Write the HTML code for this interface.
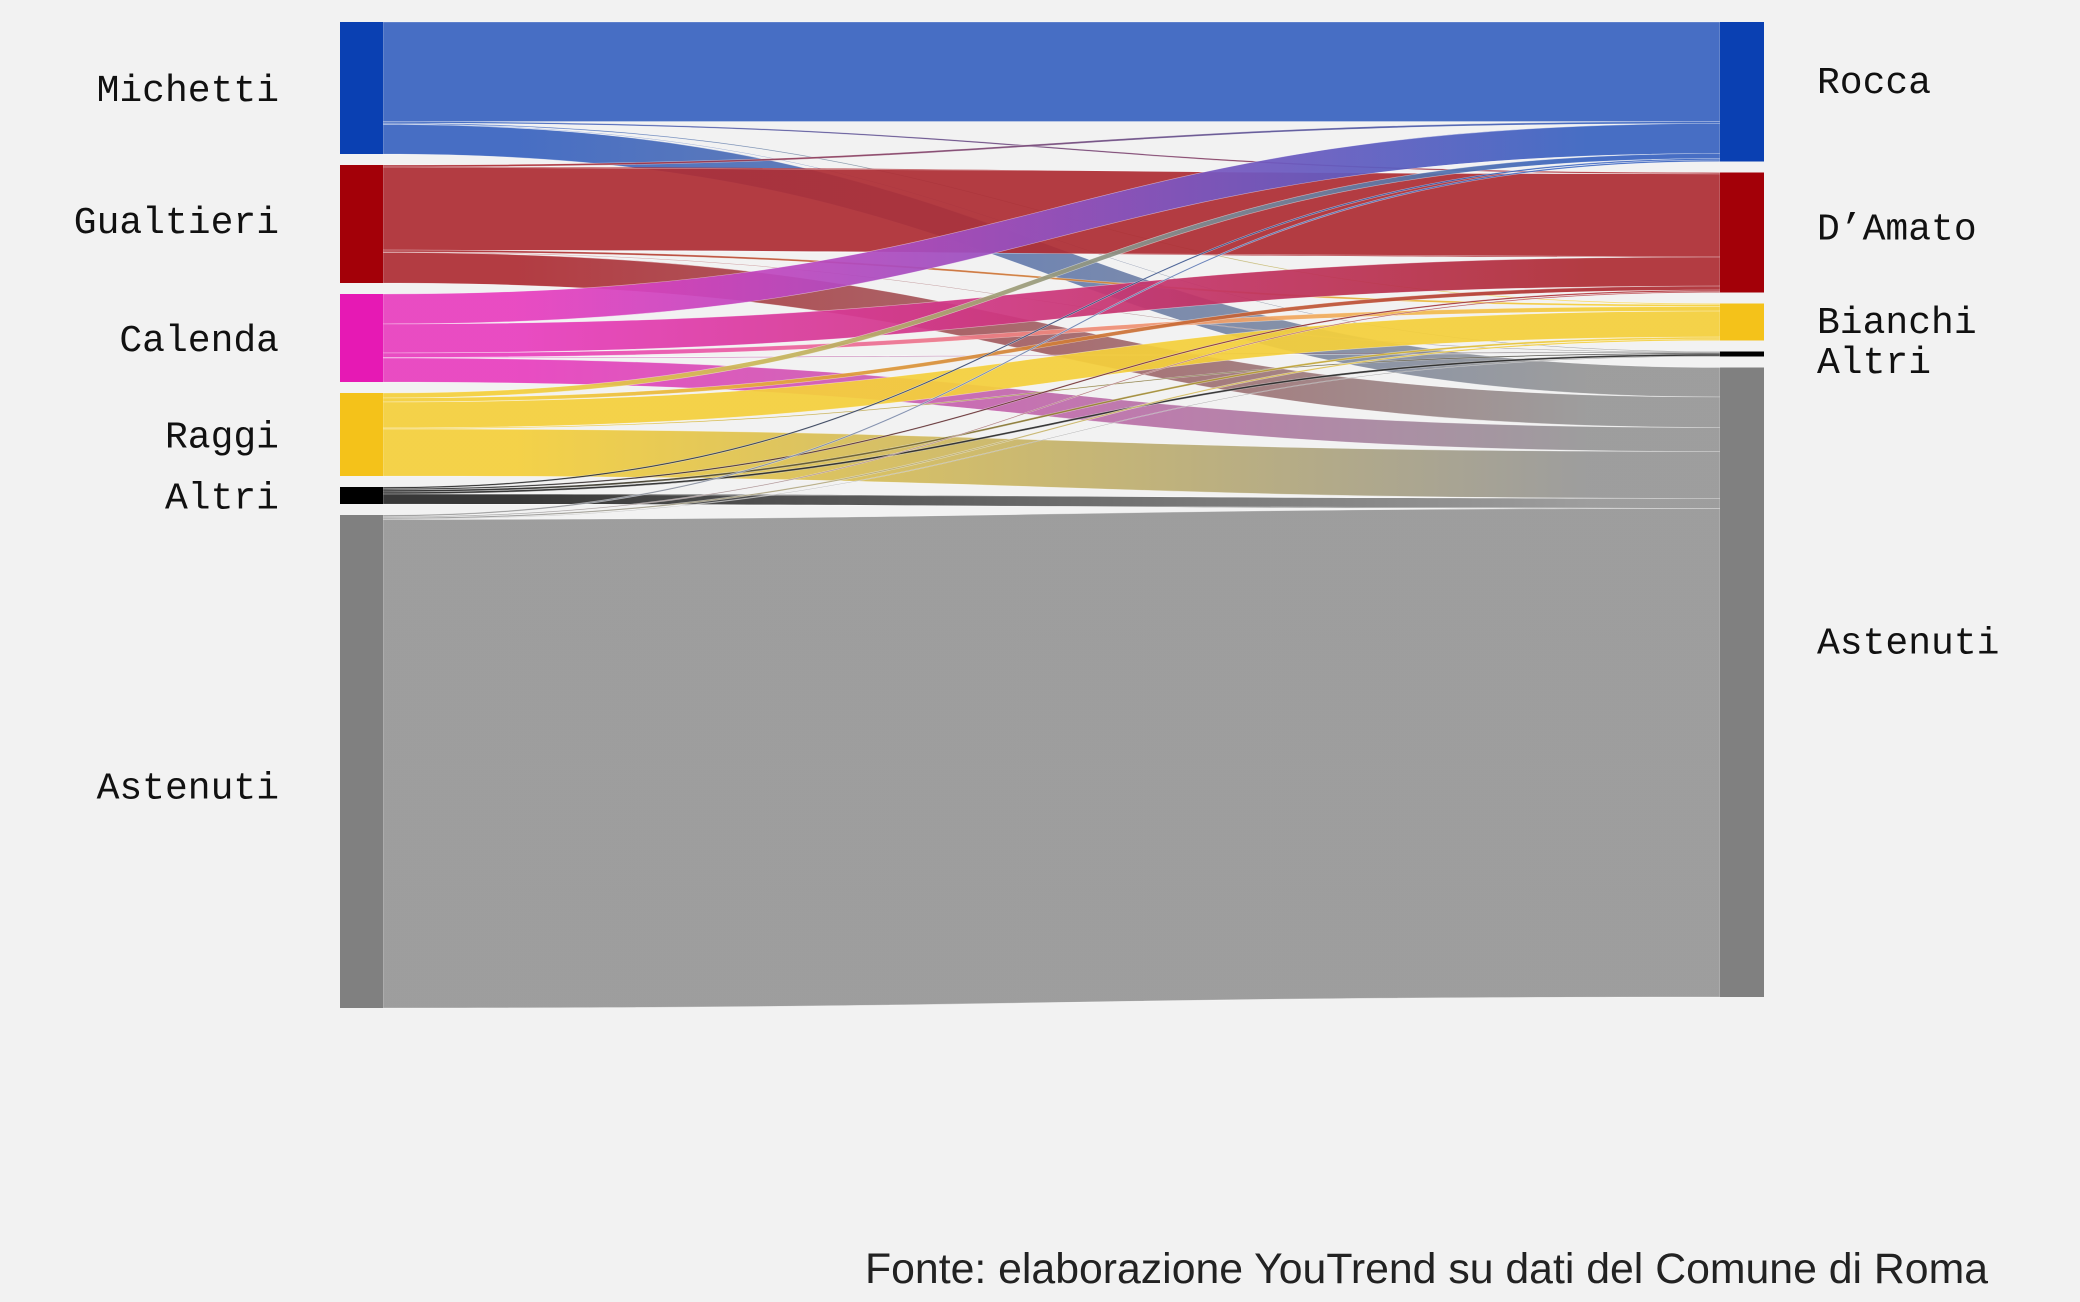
<!DOCTYPE html>
<html><head><meta charset="utf-8"><style>
html,body{margin:0;padding:0;background:#f2f2f2;}
svg{display:block;}
.lbl{font-family:"Liberation Mono","DejaVu Sans Mono",monospace;font-size:38px;fill:#111;}
</style></head><body>
<svg id="chart" width="2080" height="1302" viewBox="0 0 2080 1302" xmlns="http://www.w3.org/2000/svg">
<rect x="0" y="0" width="2080" height="1302" fill="#f2f2f2"/>
<defs id="defs"></defs>
<g id="links"></g>
<g id="nodes"></g>
<text x="865" y="1283" textLength="1123" lengthAdjust="spacingAndGlyphs" font-family="Liberation Sans Narrow, Liberation Sans, Arial, sans-serif" font-size="43" fill="#222">Fonte: elaborazione YouTrend su dati del Comune di Roma</text>
</svg>
<script>
const sources = ["Michetti","Gualtieri","Calenda","Raggi","Altri","Astenuti"];
const targets = ["Rocca","D\u2019Amato","Bianchi","Altri","Astenuti"];
const fromMichetti = [99.5, 1.5, 1, 0.5, 29.5];
const fromGualtieri = [2, 83, 2, 0.5, 30.5];
const fromCalenda = [30, 29, 4.5, 0.5, 24];
const fromRaggi = [5, 4, 26, 1, 47];
const fromAltri = [1.5, 1.5, 2, 2, 10];
const fromAstenuti = [1.5, 1, 1.5, 0.5, 488.5];
const flows = [fromMichetti, fromGualtieri, fromCalenda, fromRaggi, fromAltri, fromAstenuti];

const srcNodeCol = ["#0a40b2","#a30008","#e619b4","#f4c21a","#000000","#808080"];
const srcLinkCol = ["#3a64c0","#ae2e35","#e83fbf","#f4cf3c","#2a2a2a","#979797"];
const tgtNodeCol = ["#0a40b2","#a30008","#f4c21a","#000000","#808080"];
const tgtLinkCol = ["#3a64c0","#ae2e35","#f4cf3c","#2a2a2a","#979797"];

const NS="http://www.w3.org/2000/svg";
const L={x0:340,x1:383,top:22,pad:11}, R={x0:1720,x1:1764,top:22,pad:11};
const k=1.0;
const srcTot=sources.map((s,i)=>flows[i].reduce((a,b)=>a+b,0));
const tgtTot=targets.map((t,j)=>flows.reduce((a,r)=>a+r[j],0));
function stack(tots,cfg){let y=cfg.top;return tots.map(v=>{const o={y0:y,y1:y+v*k};y+=v*k+cfg.pad;return o;});}
const sPos=stack(srcTot,L), tPos=stack(tgtTot,R);
const defs=document.getElementById('defs'), gl=document.getElementById('links'), gn=document.getElementById('nodes');
const sOff=sPos.map(p=>p.y0), tOff=tPos.map(p=>p.y0);
const paths=[];
flows.forEach((row,i)=>row.forEach((v,j)=>{
  const h=v*k, sy=sOff[i]; sOff[i]+=h;
  paths.push({i,j,h,sy,ty:0});
}));
targets.forEach((t,j)=>{paths.filter(p=>p.j===j).sort((a,b)=>a.i-b.i).forEach(p=>{p.ty=tOff[j];tOff[j]+=p.h;});});
paths.forEach((p,n)=>{
  const g=document.createElementNS(NS,'linearGradient');
  g.setAttribute('id','g'+n);g.setAttribute('gradientUnits','userSpaceOnUse');
  g.setAttribute('x1',L.x1);g.setAttribute('x2',R.x0);g.setAttribute('y1',0);g.setAttribute('y2',0);
  g.innerHTML=`<stop offset="0.1" stop-color="${srcLinkCol[p.i]}"/><stop offset="0.9" stop-color="${tgtLinkCol[p.j]}"/>`;
  defs.appendChild(g);
  const x0=L.x1,x1=R.x0,xm=(x0+x1)/2;
  const d=`M${x0},${p.sy}C${xm},${p.sy} ${xm},${p.ty} ${x1},${p.ty}L${x1},${p.ty+p.h}C${xm},${p.ty+p.h} ${xm},${p.sy+p.h} ${x0},${p.sy+p.h}Z`;
  const el=document.createElementNS(NS,'path');
  el.setAttribute('d',d);el.setAttribute('fill',`url(#g${n})`);el.setAttribute('fill-opacity','0.93');
  el.setAttribute('stroke','#ffffff');el.setAttribute('stroke-width','0.6');el.setAttribute('stroke-opacity','0.5');
  
  
  gl.appendChild(el);
});
function node(x0,x1,p,col,name){
  const r=document.createElementNS(NS,'rect');
  r.setAttribute('x',x0);r.setAttribute('y',p.y0);r.setAttribute('width',x1-x0);r.setAttribute('height',Math.max(p.y1-p.y0,1));r.setAttribute('fill',col);
  
  
  gn.appendChild(r);
}
const lAdj=[2,-2,2,2,2,26];
sources.forEach((s,i)=>{
  node(L.x0,L.x1,sPos[i],srcNodeCol[i],'node-left-'+s.toLowerCase());
  const t=document.createElementNS(NS,'text');
  t.setAttribute('x',279);t.setAttribute('y',(sPos[i].y0+sPos[i].y1)/2+11+lAdj[i]);t.setAttribute('text-anchor','end');t.setAttribute('class','lbl');
  t.textContent=s;
  
  
  gn.appendChild(t);
});
const rAdj=[-10,-4,0,8,-40];
targets.forEach((s,j)=>{
  node(R.x0,R.x1,tPos[j],tgtNodeCol[j],'node-right-'+j);
  const t=document.createElementNS(NS,'text');
  t.setAttribute('x',1817);t.setAttribute('y',(tPos[j].y0+tPos[j].y1)/2+11+rAdj[j]);t.setAttribute('class','lbl');
  t.textContent=s;
  
  
  gn.appendChild(t);
});
</script>
</body></html>
